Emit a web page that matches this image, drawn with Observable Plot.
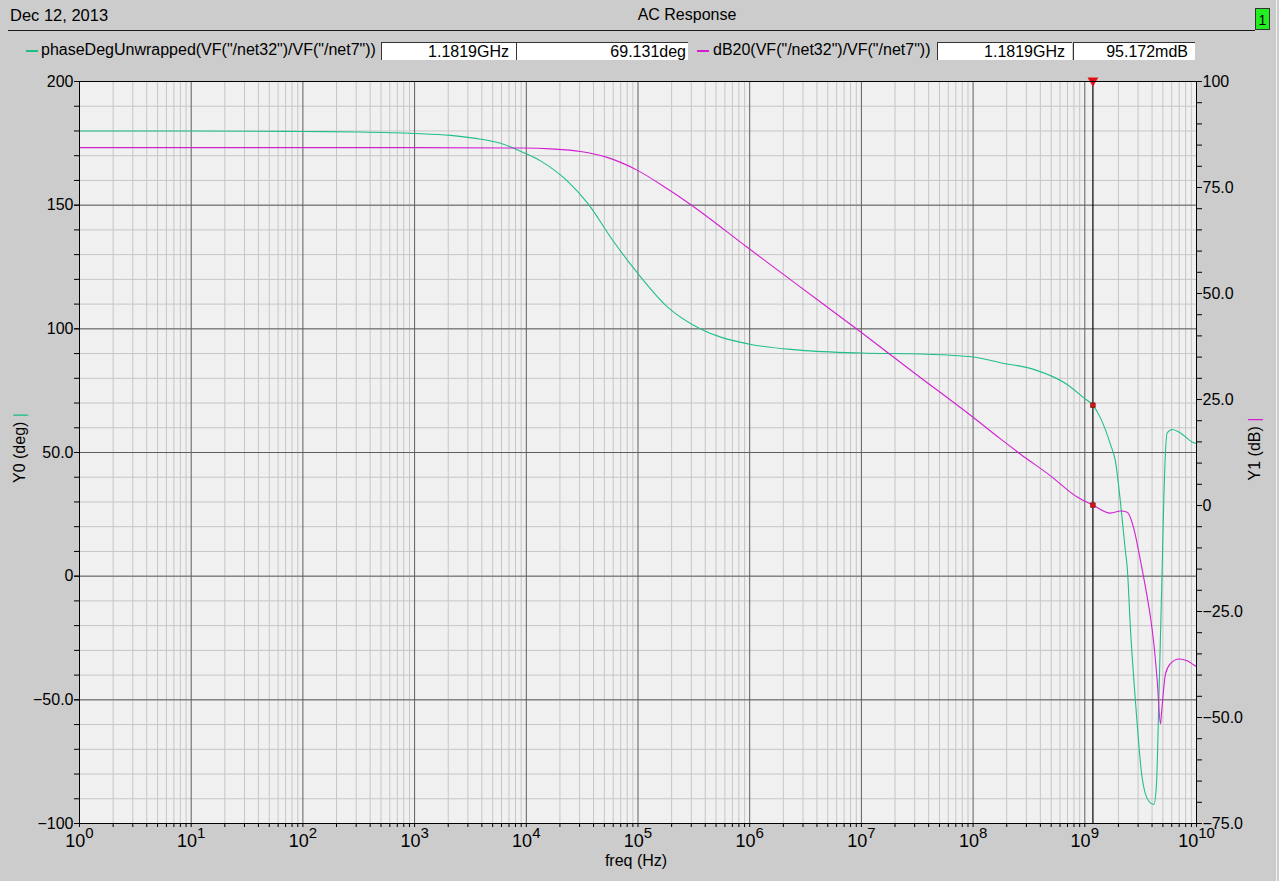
<!DOCTYPE html>
<html><head><meta charset="utf-8">
<script src="https://cdn.jsdelivr.net/npm/d3@7"></script>
<script src="https://cdn.jsdelivr.net/npm/@observablehq/plot@0.6"></script>
<style>
body{margin:0;background:#cccccc;font-family:"Liberation Sans",Arial,sans-serif;color:#000;}
#wrap{position:relative;width:1279px;height:881px;overflow:hidden;background:#cccccc;}
#wrap svg{position:absolute;left:0;top:0;}
.abs{position:absolute;white-space:nowrap;}
.box{position:absolute;background:#fff;border-top:1px solid #333;border-left:1px solid #333;height:18px;top:42px;overflow:hidden;text-align:right;font-size:16px;line-height:18px;box-sizing:border-box;}
</style></head><body><div id="wrap"></div>
<script>
// ---- data ----
const phaseFreq = [1,10,100,300,1000,2100,3500,5900,9500,13500,23500,35500,60000,98000,180000,360000,1e6,2.8e6,1e7,3.4e7,1e8,1.76e8,3.49e8,6.95e8,9.8e8,1.1819e9,1.38e9,1.70e9,1.88e9,2.09e9,2.31e9,2.4e9,2.56e9,2.84e9,3.26e9,3.74e9,4.15e9,4.38e9,4.6e9,4.93e9,5.09e9,5.46e9,6.06e9,7.18e9,9.46e9,1e10];
const phaseDeg  = [180,180,179.8,179.6,179.0,178.2,177,175.0,171.2,167.8,159.6,150.7,135.5,122.8,109.2,100.0,93.8,91.4,90.2,89.8,88.6,86.3,83.6,77.5,72.1,69.131,64.0,53.2,46.5,29.5,10,3.4,-20.9,-50.5,-81.5,-91.0,-92.3,-84.2,-50.5,3.4,30,57.9,59.3,57.9,53.9,53.6];
const magFreq = [1,1000,9300,16500,30600,53000,98000,183000,295000,950000,2.85e6,1e7,3e7,1e8,1.76e8,2.66e8,4.93e8,8.55e8,1.1819e9,1.70e9,2.09e9,2.4e9,2.75e9,3.15e9,3.62e9,3.87e9,4.15e9,4.45e9,4.76e9,4.86e9,5.28e9,5.85e9,6.95e9,8.26e9,9.46e9,1e10];
const magDb   = [84.4,84.4,84.3,84.1,83.5,82.1,79.1,74.7,71.0,60.9,51.5,40.8,31.2,20.8,15.7,12.1,7.0,2.0,0.095,-1.8,-1.3,-1.6,-5.5,-13,-21.6,-26.3,-32.6,-41.3,-51.5,-49,-39.7,-37.3,-36.2,-36.6,-37.6,-38];
const xDecades = [1,1e1,1e2,1e3,1e4,1e5,1e6,1e7,1e8,1e9,1e10];
const leftTicks = [-100,-50,0,50,100,150,200];
const rightTicks = [-75,-50,-25,0,25,50,75,100];
const markerFreq = 1.1819e9, markerPhase = 69.131, markerDb = 0.095172;

// ---- helpers ----
const GREEN = "#1fbf85", MAGENTA = "#d21fd2";
const dbToY = d => (d + 75) * 300 / 175 - 100;
const yToDb = y => Math.round(((y + 100) * 175 / 300 - 75) * 1000) / 1000;
const fmt = v => v === 0 ? "0" : (Math.abs(v) >= 100 ? String(Math.abs(v)) : Math.abs(v).toFixed(1)).replace(/^/, v < 0 ? "\u2212" : "");
const minorX = []; for (let d = 0; d < 10; d++) for (let k = 2; k <= 9; k++) minorX.push(k * 10 ** d);
const minorY = d3.range(-100, 201, 10);
const majorY = [-50, 0, 50, 100, 150];
const rightMinor = d3.range(-75, 101, 5).map(dbToY);
const phase = phaseFreq.map((f, i) => ({f, v: phaseDeg[i]}));
const mag = magFreq.map((f, i) => ({f, v: dbToY(magDb[i])}));

const chart = Plot.plot({
  width: 1279, height: 881,
  marginLeft: 79, marginRight: 83, marginTop: 81, marginBottom: 58,
  style: {background: "transparent", fontFamily: "Liberation Sans, Arial, sans-serif", fontSize: "16px", color: "#000", overflow: "visible"},
  x: {type: "log", domain: [1, 1e10], label: null},
  y: {domain: [-100, 200], label: null},
  marks: [
    Plot.frame({fill: "#f0f0f0"}),
    Plot.ruleX(minorX, {stroke: "#c6c6c6"}),
    Plot.ruleY(minorY, {stroke: "#c6c6c6"}),
    Plot.ruleX(xDecades.slice(1, -1), {stroke: "#5e5e5e"}),
    Plot.ruleY(majorY, {stroke: "#5e5e5e"}),
    Plot.line(phase, {x: "f", y: "v", stroke: GREEN, strokeWidth: 1.1, curve: "monotone-x"}),
    Plot.line(mag, {x: "f", y: "v", stroke: MAGENTA, strokeWidth: 1.1, curve: "monotone-x"}),
    Plot.ruleX([markerFreq], {stroke: "#000", strokeWidth: 1.2}),
    Plot.dot([{f: markerFreq, v: markerPhase}, {f: markerFreq, v: dbToY(markerDb)}], {x: "f", y: "v", symbol: "square", r: 2.6, fill: "#e01010", stroke: "#802020", strokeWidth: 0.8}),
    Plot.dot([{f: markerFreq, v: 200}], {x: "f", y: "v", symbol: "triangle", rotate: 180, r: 4, fill: "#e01010", dy: -1}),
    Plot.frame({stroke: "#000"}),
    Plot.axisX(xDecades, {anchor: "bottom", tickSize: 4, tickPadding: 7, fontSize: 18, label: null, tickFormat: d => "10^" + Math.round(Math.log10(d))}),
    Plot.axisX(minorX, {anchor: "bottom", tickSize: 4, label: null, tickFormat: () => ""}),
    Plot.axisY(leftTicks, {anchor: "left", tickSize: 5, tickPadding: 1, label: null, tickFormat: fmt}),
    Plot.axisY(minorY, {anchor: "left", tickSize: 5, label: null, tickFormat: () => ""}),
    Plot.axisY(rightTicks.map(dbToY), {anchor: "right", tickSize: 5, tickPadding: 1, label: null, tickFormat: y => fmt(yToDb(y))}),
    Plot.axisY(rightMinor, {anchor: "right", tickSize: 5, label: null, tickFormat: () => ""})
  ]
});

const wrap = document.getElementById("wrap");
wrap.appendChild(chart);

// superscript exponents on the x tick labels
chart.querySelectorAll("text").forEach(t => {
  const s = t.textContent;
  const m = /^10\^(\d+)$/.exec(s);
  if (m) {
    t.textContent = "10";
    const ts = document.createElementNS("http://www.w3.org/2000/svg", "tspan");
    ts.setAttribute("dy", "-9");
    ts.setAttribute("font-size", "15");
    ts.textContent = m[1];
    t.appendChild(ts);
  }
});

// ---- header / labels (HTML) ----
function add(html, css) {
  const d = document.createElement("div");
  d.className = "abs";
  d.innerHTML = html;
  Object.assign(d.style, css);
  wrap.appendChild(d);
  return d;
}
add("Dec 12, 2013", {left: "10px", top: "5px", fontSize: "16.5px", lineHeight: "20px"});
add("AC Response", {left: "687px", top: "5px", fontSize: "16px", lineHeight: "20px", transform: "translateX(-50%)"});
add("", {left: "8px", top: "30px", width: "1247px", height: "1px", background: "#1a1a1a"});
add("1", {left: "1255px", top: "8px", width: "13px", height: "20px", background: "#22ee22", border: "1px solid #333", fontSize: "14px", lineHeight: "22px", textAlign: "center"});
add("", {left: "1276px", top: "0px", width: "1px", height: "881px", background: "#f2f2f2"});

// legend
add("", {left: "26px", top: "50px", width: "12px", height: "1.5px", background: GREEN});
add("phaseDegUnwrapped(VF(\"/net32\")/VF(\"/net7\"))", {left: "41px", top: "41px", fontSize: "16px", lineHeight: "18px"});
function box(left, width, text, pad) {
  const d = document.createElement("div");
  d.className = "box";
  Object.assign(d.style, {left: left + "px", width: width + "px", paddingRight: pad + "px"});
  d.textContent = text;
  wrap.appendChild(d);
}
box(381, 135, "1.1819GHz", 7);
box(516, 172, "69.131deg", 2);
add("", {left: "697px", top: "50px", width: "12px", height: "1.5px", background: MAGENTA});
add("dB20(VF(\"/net32\")/VF(\"/net7\"))", {left: "713px", top: "41px", fontSize: "16px", lineHeight: "18px"});
box(937, 135, "1.1819GHz", 7);
box(1073, 122, "95.172mdB", 7);

// axis titles
add("Y0 (deg) <span style=\"color:" + GREEN + "\">|</span>", {left: "20px", top: "448px", fontSize: "16px", lineHeight: "18px", transform: "translate(-50%,-50%) rotate(-90deg)"});
add("Y1 (dB) <span style=\"color:" + MAGENTA + "\">|</span>", {left: "1255px", top: "449px", fontSize: "16px", lineHeight: "18px", transform: "translate(-50%,-50%) rotate(-90deg)"});
add("freq (Hz)", {left: "636px", top: "852px", fontSize: "16px", lineHeight: "18px", transform: "translateX(-50%)"});
</script>
</body></html>
